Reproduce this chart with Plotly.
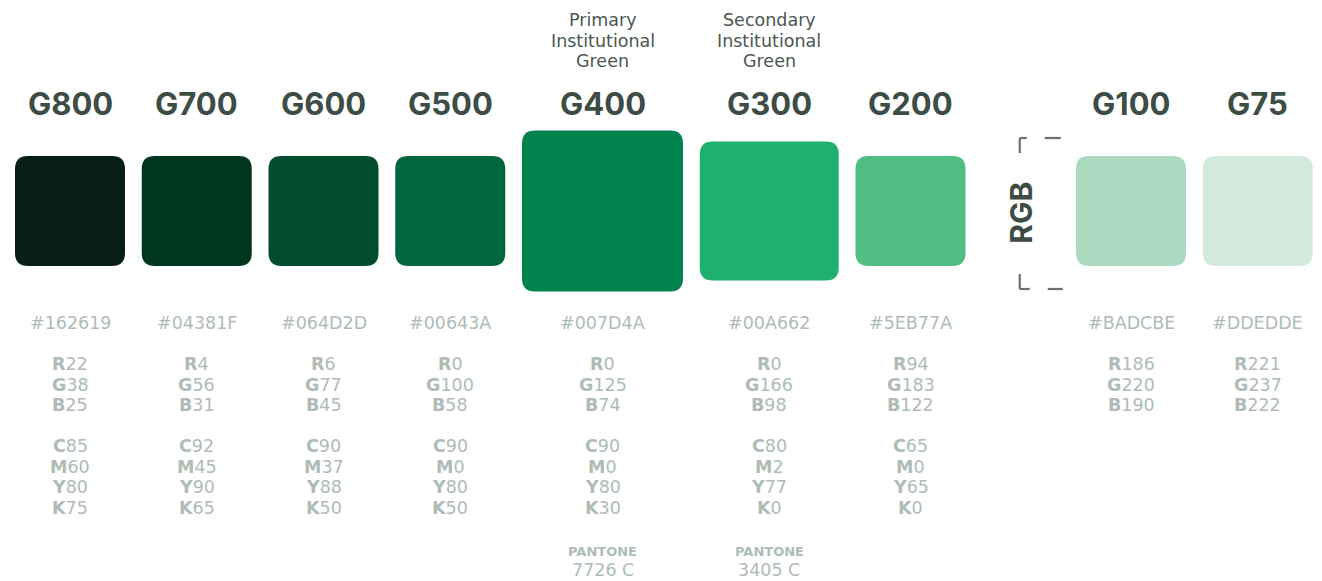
import plotly.graph_objects as go

# ---------------- data ----------------
names = ["G800", "G700", "G600", "G500", "G400", "G300", "G200", "G100", "G75"]
hex_codes = ["#162619", "#04381F", "#064D2D", "#00643A", "#007D4A",
             "#00A662", "#5EB77A", "#BADCBE", "#DDEDDE"]
rgb_r = [22, 4, 6, 0, 0, 0, 94, 186, 221]
rgb_g = [38, 56, 77, 100, 125, 166, 183, 220, 237]
rgb_b = [25, 31, 45, 58, 74, 98, 122, 190, 222]
cmyk_c = [85, 92, 90, 90, 90, 80, 65, None, None]
cmyk_m = [60, 45, 37, 0, 0, 2, 0, None, None]
cmyk_y = [80, 90, 88, 80, 80, 77, 65, None, None]
cmyk_k = [75, 65, 50, 50, 30, 0, 0, None, None]
pantone = [None, None, None, None, "7726 C", "3405 C", None, None, None]
subtitles = [None, None, None, None,
             ["Primary", "Institutional", "Green"],
             ["Secondary", "Institutional", "Green"],
             None, None, None]
group_label = "RGB"

# ---------------- style ----------------
swatch_fill = ["#071f14", "#01361e", "#034d2f", "#00663d", "#00834f",
               "#1faf6e", "#50bd83", "#acdabe", "#d2eadb"]
sizes = [110, 110, 110, 110, 161, 139, 110, 110, 110]
gap = 16.75
bracket_gap = 110.5
left0 = 15
center_y = 211
radius = 13
W, H = 1322, 581
HEAD_FONT = "Inter"
BODY_FONT = "DejaVu Sans"
BODY_SIZE = 17.5
head_col = "#3d4d46"
sub_col = "#4a5651"
info_col = "#aebcb5"
LINE_STEP = 20.5

# compute horizontal layout of swatches
lefts = []
x = left0
for i, s in enumerate(sizes):
    lefts.append(x)
    x += s + (bracket_gap if i == 6 else gap)
centers = [l + s / 2 for l, s in zip(lefts, sizes)]


def rounded_path(cx, cy, s, r):
    x0, x1 = cx - s / 2, cx + s / 2
    y0, y1 = cy - s / 2, cy + s / 2
    return (f"M {x0 + r},{y0} L {x1 - r},{y0} Q {x1},{y0} {x1},{y0 + r} "
            f"L {x1},{y1 - r} Q {x1},{y1} {x1 - r},{y1} L {x0 + r},{y1} "
            f"Q {x0},{y1} {x0},{y1 - r} L {x0},{y0 + r} Q {x0},{y0} {x0 + r},{y0} Z")


fig = go.Figure()
shapes = []
ann = []


def add_text(x, y, text, size, color, family=BODY_FONT, bold=False, **kw):
    ann.append(dict(x=x, y=y, xref="x", yref="y", text=f"<b>{text}</b>" if bold else text,
                    showarrow=False, xanchor="center", yanchor="middle", borderpad=0,
                    font=dict(family=family, size=size, color=color), **kw))


def add_lines(x, y_first, lines, size, color):
    for k, ln in enumerate(lines):
        add_text(x, y_first + LINE_STEP * k, ln, size, color)


for i, n in enumerate(names):
    cx = centers[i]
    shapes.append(dict(type="path", path=rounded_path(cx, center_y, sizes[i], radius),
                       xref="x", yref="y", fillcolor=swatch_fill[i],
                       line=dict(width=0), layer="below"))
    add_text(cx, 103, n, 31, head_col, family=HEAD_FONT, bold=True)
    if subtitles[i]:
        add_lines(cx, 20, subtitles[i], BODY_SIZE, sub_col)
    add_text(cx, 323, hex_codes[i], BODY_SIZE, info_col)
    add_lines(cx, 364, [f"<b>{lab}</b>{val}" for lab, val in
                        zip("RGB", [rgb_r[i], rgb_g[i], rgb_b[i]])], BODY_SIZE, info_col)
    if cmyk_c[i] is not None:
        add_lines(cx, 446, [f"<b>{lab}</b>{val}" for lab, val in
                            zip("CMYK", [cmyk_c[i], cmyk_m[i], cmyk_y[i], cmyk_k[i]])],
                  BODY_SIZE, info_col)
    if pantone[i]:
        add_text(cx, 551, "PANTONE", 13, info_col, bold=True)
        add_text(cx, 570, pantone[i], BODY_SIZE, info_col)

# RGB bracket between G200 and G100
bx = (lefts[6] + sizes[6] + lefts[7]) / 2
add_text(bx, 213, group_label, 30, head_col, family=HEAD_FONT, bold=True, textangle=-90)
bcol = "#6e6e6e"
tl_x = bx - 1
segs = [
    (tl_x, 138, tl_x, 153), (tl_x, 138, tl_x + 7, 138), (tl_x + 25, 138, tl_x + 41, 138),
    (tl_x, 274, tl_x, 289), (tl_x, 289, tl_x + 10, 289), (tl_x + 28, 289, tl_x + 43, 289),
]
for x0, y0, x1, y1 in segs:
    shapes.append(dict(type="line", x0=x0, y0=y0, x1=x1, y1=y1, xref="x", yref="y",
                       line=dict(color=bcol, width=2.2)))

fig.update_layout(
    width=W, height=H, margin=dict(l=0, r=0, t=0, b=0),
    paper_bgcolor="white", plot_bgcolor="white",
    xaxis=dict(range=[0, W], visible=False, fixedrange=True),
    yaxis=dict(range=[H, 0], visible=False, fixedrange=True),
    shapes=shapes, annotations=ann, showlegend=False,
)
fig.write_html("out.html", config={"displayModeBar": False},
               post_script="document.body.style.margin='0';")
